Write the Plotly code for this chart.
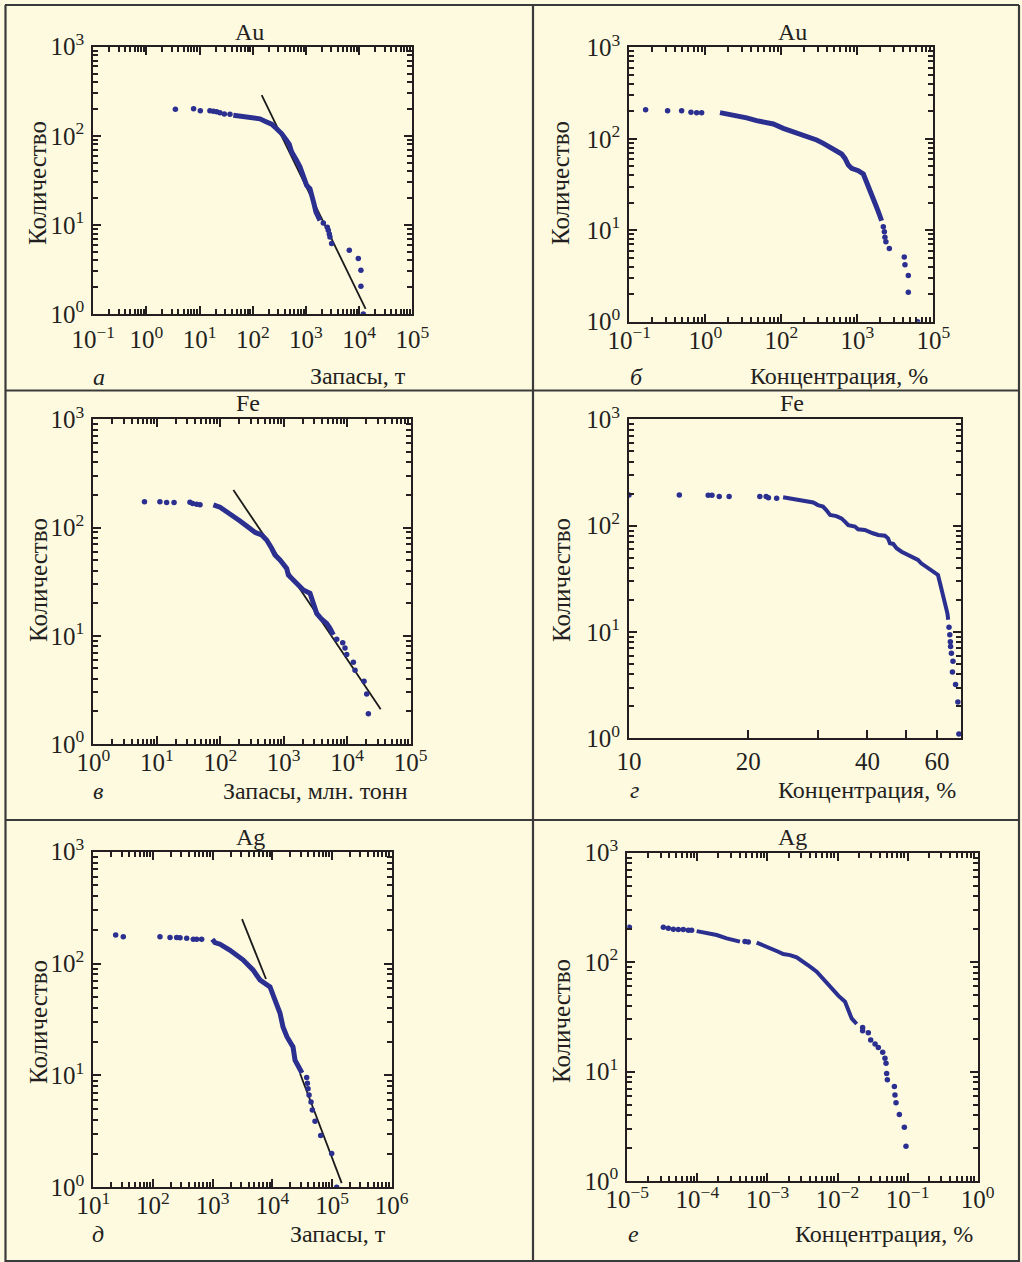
import plotly.graph_objects as go

# ---------------- data: rank (count) vs value ----------------
# Au, reserves (t)
au_res_dots_x = [3.5, 7.7, 10.3, 15.6, 18.1, 20.9, 24.1, 29.1, 37.2,
                 2118, 2518, 2630, 2748, 2827, 3040, 6530, 9640, 10810, 10810, 11970]
au_res_dots_n = [199, 201, 191, 191, 189, 186, 182, 176, 175,
                 10.5, 9.4, 8.7, 7.9, 7.3, 6.2, 5.2, 4.2, 3.1, 2.05, 1]
au_res_curve_x = [43, 57, 77, 102, 136, 182, 226, 281, 348, 433, 486, 537, 578, 667,
                  771, 891, 1030, 1190, 1279, 1413, 1542, 1706, 1834]
au_res_curve_n = [170, 166, 163, 162, 155, 143, 135, 120, 106, 89, 80, 66, 60, 53,
                  45, 34.5, 27.8, 25.5, 22.4, 17.3, 13.9, 12.5, 11.2]
au_res_fit_x = [147, 13240]
au_res_fit_n = [286, 1.14]

# Au, concentration (%)
au_conc_dots_x = [0.164, 0.319, 0.488, 0.648, 0.769, 0.895,
                  220, 227, 231, 238, 264, 415, 424, 469, 469, 622]
au_conc_dots_n = [207, 202, 202, 195, 193, 193,
                  10.9, 9.6, 8.4, 7.5, 6.3, 5.1, 4.2, 3.2, 2.1, 1]
au_conc_curve_x = [1.56, 1.73, 2.11, 2.58, 3.5, 4.73, 6.41, 7.85, 10.6, 14.4, 19.5, 23.8,
                   29.2, 35.7, 43.7, 53.5, 62.2, 68.9, 76.2, 84.2, 103, 120, 130, 140,
                   154, 171, 189, 209]
au_conc_curve_n = [193, 190, 187, 180, 169, 158, 147.5, 145, 130, 120, 108, 104,
                   97, 89, 80.6, 75.4, 68.1, 61.1, 51.6, 47.5, 44.8, 41.2, 35.4, 29.9,
                   25.3, 19.7, 16, 12.7]

# Fe, reserves (mln t)
fe_res_dots_x = [6.4, 11.2, 14.3, 18.7, 33.3, 36.7, 42.5, 48,
                 6830, 8490, 9230, 9810, 12500, 13280, 18400, 20270, 21530]
fe_res_dots_n = [173, 173, 170, 170, 171, 167, 164, 162,
                 9.3, 8.6, 7.7, 6.7, 5.7, 4.8, 3.8, 2.9, 1.9]
fe_res_curve_x = [78, 99, 126, 161, 205, 277, 352, 449, 538, 645, 728, 873, 1112, 1181,
                  1416, 1698, 2036, 2593, 2926, 3302, 3962, 4748, 5356, 6051]
fe_res_curve_n = [162, 154, 140, 128, 115, 100.5, 90.3, 85.4, 76.7, 64.3, 55.8, 50.1,
                  42, 36.5, 32.8, 28.5, 26.5, 24.7, 19.9, 16.1, 14.2, 13, 11.7, 10.2]
fe_res_fit_x = [161, 33700]
fe_res_fit_n = [222, 2.09]

# Fe, concentration (%)
fe_conc_dots_x = [10.0, 13.4, 15.85, 16.2, 16.9, 17.9, 21.4, 22.2, 22.5, 23.6,
                  64.3, 64.6, 64.8, 64.9, 65.2, 65.8, 65.6, 66.8, 67.7, 68.1]
fe_conc_dots_n = [194, 194, 193, 193, 188, 188, 188, 188, 183, 181,
                  11.1, 9.4, 8.1, 7.3, 6.3, 5.3, 4.2, 3.2, 2.2, 1.1]
fe_conc_curve_x = [24.5, 25.5, 26.5, 27.3, 28.1, 29.2, 30, 30.9, 31.5, 32.2, 33.4, 34.4,
                   35.1, 35.8, 37.2, 37.9, 39.4, 40.2, 41.3, 42.6, 44.3, 45.1, 45.6,
                   46.5, 47.4, 48.8, 49.7, 51.2, 52.7, 53.7, 54.7, 56.4, 58, 59.2,
                   60.3, 60.9, 61.5, 62.1, 62.7, 63.3, 63.7, 64]
fe_conc_curve_n = [185, 181, 174, 174, 168, 165, 156, 151, 140, 126, 123, 117,
                   109, 101, 98, 92.4, 91, 87.9, 84.8, 81.7, 80.5, 76, 68.2,
                   67.3, 61.3, 56.9, 54.9, 51.8, 49.3, 47.6, 44.2, 41.1, 38.3, 36.1,
                   34.4, 29.7, 25.8, 22.3, 19.3, 17.3, 15, 13]

# Ag, reserves (t)
ag_res_dots_x = [23.7, 31.8, 131, 193, 249, 284, 367, 474, 540, 654,
                 37590, 38620, 39650, 41200, 44500, 46800, 51900, 64600, 98700, 119700]
ag_res_dots_n = [180, 174, 174, 171, 171, 170, 168, 165, 165, 165,
                 9.6, 8.5, 7.6, 6.7, 5.8, 4.9, 3.9, 2.9, 2.0, 1]
ag_res_curve_x = [987, 1094, 1328, 1928, 3223, 4742, 6213, 9140, 11090, 13430, 15100,
                  17630, 22200, 23990, 31410]
ag_res_curve_n = [165, 154, 149, 132, 108, 87.7, 71.3, 61.8, 47.2, 36.1, 27.1,
                  22.1, 18, 13.7, 10.5]
ag_res_fit_x = [3105, 7830, None, 29100, 145200]
ag_res_fit_n = [250, 72.8, None, 10.4, 1.09]

# Ag, concentration (%)
ag_conc_dots_x = [1.07e-5, 3.27e-5, 3.85e-5, 4.54e-5, 5.35e-5, 6.3e-5, 7.43e-5, 8.28e-5,
                  4.78e-4, 5.33e-4, 2.28e-2, 2.28e-2, 2.75e-2, 2.97e-2, 3.43e-2, 3.82e-2,
                  4.41e-2, 4.75e-2, 4.92e-2, 5.02e-2, 5.14e-2, 6.47e-2, 6.6e-2, 6.83e-2,
                  7.62e-2, 8.98e-2, 9.48e-2]
ag_conc_dots_n = [208, 208, 204, 200, 199, 199, 196, 196,
                  154, 153, 25.3, 23.6, 22.6, 19.4, 17.9, 16.6,
                  15, 13.2, 11.9, 9.6, 8.4, 7.3, 6.1, 5.2,
                  4.06, 3.1, 2.08]
ag_conc_curve_x = [9.77e-5, 1.356e-4, 1.884e-4, 2.62e-4, 3.63e-4, 4.05e-4, None,
                   7.01e-4, 8.73e-4, 1.087e-3, 1.43e-3, 1.68e-3, 2.1e-3, 2.61e-3, 3.25e-3,
                   4.05e-3, 5.04e-3, 6.27e-3, 7.81e-3, 9.2e-3, 1.026e-2, 1.28e-2, 1.43e-2,
                   1.59e-2, 1.876e-2]
ag_conc_curve_n = [192, 186, 177, 165, 156, 154, None,
                   151, 143, 135.5, 124.5, 118.5, 116, 110.6, 101,
                   90.8, 81.8, 69.6, 59.7, 53.7, 49.4, 43.5, 35.2,
                   30.6, 27.2]

# ---------------- styling ----------------
W, H = 1022, 1262
BG = "#fefae0"
INK = "#231f20"
BLUE = "#2b3090"
FONT = "Liberation Serif"


def sup(e):
    s = str(e).replace("-", "\u2212")
    return "10<sup>%s</sup>" % s


def log_minor(lo, hi):
    vals = []
    for n in range(lo, hi):
        for k in range(2, 10):
            vals.append(k * 10.0 ** n)
    return vals


# plot-area rectangles in pixels: (left, top, right, bottom)
panels = {
    "a": (93.3, 46.7, 412.3, 314.0),
    "b": (629.3, 47.3, 933.3, 321.7),
    "c": (93.3, 419.3, 410.7, 744.0),
    "d": (629.0, 419.3, 961.0, 738.3),
    "e": (93.3, 851.7, 391.7, 1187.3),
    "f": (627.3, 852.7, 977.7, 1181.0),
}

fig = go.Figure()

layout_axes = {}


def add_panel(idx, key, xcfg, dots, curve, fit, curve_w=5):
    l, t, r, b = panels[key]
    xa = "xaxis" if idx == 1 else "xaxis%d" % idx
    ya = "yaxis" if idx == 1 else "yaxis%d" % idx
    xref = "x" if idx == 1 else "x%d" % idx
    yref = "y" if idx == 1 else "y%d" % idx

    common = dict(
        type="log", showgrid=False, zeroline=False, automargin=False,
        showline=True, linecolor=INK, linewidth=2,
        ticks="inside", ticklen=8, tickwidth=1.5, tickcolor=INK,
        tickfont=dict(family=FONT, size=25, color=INK),
    )
    xd = dict(common)
    xd.update(domain=[l / W, r / W], anchor=yref, range=xcfg["range"],
              tickvals=xcfg["tickvals"], ticktext=xcfg["ticktext"],
              mirror=xcfg.get("mirror", "allticks"),
              ticklabelstandoff=xcfg.get("standoff", -5))
    if xcfg.get("minor") is not None:
        xd["minor"] = dict(ticks="inside", ticklen=5, tickwidth=1.5, tickcolor=INK,
                           tickvals=xcfg["minor"], showgrid=False)
    yd = dict(common)
    yd.update(domain=[1 - b / H, 1 - t / H], anchor=xref, range=[0, 3],
              tickvals=[1, 10, 100, 1000], ticktext=[sup(0), sup(1), sup(2), sup(3)],
              mirror="allticks", ticklabelstandoff=2,
              minor=dict(ticks="inside", ticklen=5, tickwidth=1.5, tickcolor=INK,
                         tickvals=log_minor(0, 3), showgrid=False))
    layout_axes[xa] = xd
    layout_axes[ya] = yd

    if fit is not None:
        fig.add_trace(go.Scatter(x=fit[0], y=fit[1], mode="lines", xaxis=xref, yaxis=yref,
                                 line=dict(color="#1a1a1a", width=1.8), showlegend=False,
                                 hoverinfo="skip"))
    fig.add_trace(go.Scatter(x=curve[0], y=curve[1], mode="lines", xaxis=xref, yaxis=yref,
                             line=dict(color=BLUE, width=curve_w), showlegend=False))
    fig.add_trace(go.Scatter(x=dots[0], y=dots[1], mode="markers", xaxis=xref, yaxis=yref,
                             marker=dict(color=BLUE, size=5.5), showlegend=False))


add_panel(1, "a",
          dict(range=[-1, 5], tickvals=[10.0 ** k for k in range(-1, 6)],
               ticktext=[sup(k) for k in range(-1, 6)], minor=log_minor(-1, 5),
               standoff=2),
          (au_res_dots_x, au_res_dots_n), (au_res_curve_x, au_res_curve_n),
          (au_res_fit_x, au_res_fit_n))

add_panel(2, "b",
          dict(range=[-1, 3], tickvals=[0.1, 1, 10, 100, 1000],
               ticktext=[sup(-1), sup(0), sup(2), sup(3), sup(5)], minor=log_minor(-1, 3)),
          (au_conc_dots_x, au_conc_dots_n), (au_conc_curve_x, au_conc_curve_n), None)

add_panel(3, "c",
          dict(range=[0, 5], tickvals=[10.0 ** k for k in range(0, 6)],
               ticktext=[sup(k) for k in range(0, 6)], minor=log_minor(0, 5)),
          (fe_res_dots_x, fe_res_dots_n), (fe_res_curve_x, fe_res_curve_n),
          (fe_res_fit_x, fe_res_fit_n))

add_panel(4, "d",
          dict(range=[1, 1.8385], tickvals=[10, 20, 30, 40, 50, 60],
               ticktext=["10", "20", "", "40", "", "60"], minor=None, mirror=True,
               standoff=0),
          (fe_conc_dots_x, fe_conc_dots_n), (fe_conc_curve_x, fe_conc_curve_n), None,
          curve_w=4)

add_panel(5, "e",
          dict(range=[1, 6], tickvals=[10.0 ** k for k in range(1, 7)],
               ticktext=[sup(k) for k in range(1, 7)], minor=log_minor(1, 6)),
          (ag_res_dots_x, ag_res_dots_n), (ag_res_curve_x, ag_res_curve_n),
          (ag_res_fit_x, ag_res_fit_n))

add_panel(6, "f",
          dict(range=[-5, 0], tickvals=[10.0 ** k for k in range(-5, 1)],
               ticktext=[sup(k) for k in range(-5, 1)], minor=log_minor(-5, 0)),
          (ag_conc_dots_x, ag_conc_dots_n), (ag_conc_curve_x, ag_conc_curve_n), None,
          curve_w=4)

# ---------------- text ----------------
ann = []


def text(x, y, s, size=24, xanchor="center", yanchor="middle", angle=0, italic=False):
    txt = "<i>%s</i>" % s if italic else s
    ann.append(dict(x=x / W, y=1 - y / H, xref="paper", yref="paper", text=txt,
                    showarrow=False, xanchor=xanchor, yanchor=yanchor, textangle=angle,
                    font=dict(family=FONT, size=size, color=INK)))


titles = [("Au", 249, 32), ("Au", 792, 32), ("Fe", 248, 403), ("Fe", 792, 403),
          ("Ag", 250, 837), ("Ag", 792, 837)]
for s, x, y in titles:
    text(x, y, s, size=24)

for x, y in [(38, 183), (561, 183), (38, 580), (561, 580), (38, 1022), (561, 1021)]:
    text(x, y, "Количество", size=25, angle=-90)

xlabels = [("Запасы, т", 408, 376), ("Концентрация, %", 930, 376),
           ("Запасы, млн. тонн", 410, 791), ("Концентрация, %", 958, 790),
           ("Запасы, т", 388, 1234), ("Концентрация, %", 975, 1234)]
for s, x, y in xlabels:
    text(x, y, s, xanchor="right")

letters = [("а", 99, 377), ("б", 636, 377), ("в", 98, 791), ("г", 634, 790),
           ("д", 98, 1234), ("е", 633, 1234)]
for s, x, y in letters:
    text(x, y, s, italic=True)

# ---------------- frame ----------------
shapes = []
FR = "#3a3a3a"


def hline(y, x0, x1):
    shapes.append(dict(type="line", xref="paper", yref="paper", x0=x0 / W, x1=x1 / W,
                       y0=1 - y / H, y1=1 - y / H, line=dict(color=FR, width=2.2)))


def vline(x, y0, y1):
    shapes.append(dict(type="line", xref="paper", yref="paper", x0=x / W, x1=x / W,
                       y0=1 - y0 / H, y1=1 - y1 / H, line=dict(color=FR, width=2.2)))


hline(5, 5, 1019)
hline(390.5, 5, 1019)
hline(820, 5, 1019)
hline(1261, 5, 1019)
vline(5.5, 5, 1262)
vline(533, 5, 1262)
vline(1019, 5, 1262)

fig.update_layout(
    width=W, height=H,
    margin=dict(l=0, r=0, t=0, b=0, pad=0, autoexpand=False),
    paper_bgcolor=BG, plot_bgcolor=BG,
    annotations=ann, shapes=shapes, showlegend=False,
    **layout_axes,
)

fig.write_html("out.html")
